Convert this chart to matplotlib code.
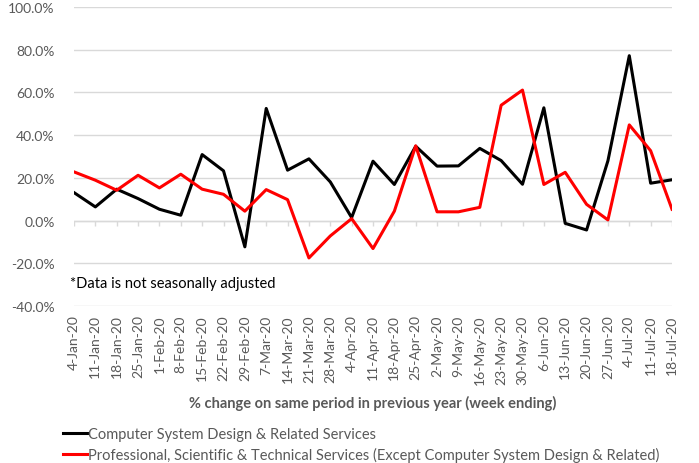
import matplotlib.pyplot as plt
import numpy as np

plt.rcParams['font.family'] = ['Lato', 'DejaVu Sans']

weeks = ['4-Jan-20', '11-Jan-20', '18-Jan-20', '25-Jan-20', '1-Feb-20', '8-Feb-20',
         '15-Feb-20', '22-Feb-20', '29-Feb-20', '7-Mar-20', '14-Mar-20', '21-Mar-20',
         '28-Mar-20', '4-Apr-20', '11-Apr-20', '18-Apr-20', '25-Apr-20', '2-May-20',
         '9-May-20', '16-May-20', '23-May-20', '30-May-20', '6-Jun-20', '13-Jun-20',
         '20-Jun-20', '27-Jun-20', '4-Jul-20', '11-Jul-20', '18-Jul-20']

computer_design = [13.1, 6.4, 14.7, 10.3, 5.3, 2.5, 30.9, 23.3, -12.3, 52.5,
                   23.6, 28.9, 18.1, 1.4, 27.8, 16.9, 34.8, 25.5, 25.6, 33.8,
                   28.1, 17.0, 52.8, -1.3, -4.4, 28.0, 77.2, 17.5, 19.1]

professional = [22.8, 18.9, 14.2, 21.2, 15.3, 21.7, 14.7, 12.3, 4.4, 14.5,
                9.8, -17.5, -7.2, 0.9, -13.1, 4.4, 35.0, 4.1, 4.1, 6.2,
                54.0, 61.1, 16.9, 22.6, 7.6, 0.3, 44.8, 32.7, 5.3]

label_black = 'Computer System Design & Related Services'
label_red = 'Professional, Scientific & Technical Services (Except Computer System Design & Related)'

grey_text = '#595959'
grid_col = '#d9d9d9'

fig = plt.figure(figsize=(6.99, 4.64), dpi=100)
ax = fig.add_axes([74 / 699, 1 - 307 / 464, 598 / 699, 299 / 464])

x = np.arange(len(weeks))
ax.plot(x, computer_design, color='black', lw=2.2, label=label_black)
ax.plot(x, professional, color='#ff0000', lw=2.2, label=label_red)

ax.set_xlim(0, len(weeks) - 1)
ax.set_ylim(-40, 100)
ax.set_yticks(np.arange(-40, 101, 20))
ax.set_yticklabels([f'{v:.1f}%' for v in np.arange(-40, 101, 20)])
ax.yaxis.grid(True, color=grid_col, lw=1)
ax.set_axisbelow(True)
for s in ax.spines.values():
    s.set_visible(False)

# zero line with small category tick marks
ax.axhline(0, color=grid_col, lw=1, zorder=0)
ax.vlines(x, -2.4, 0, color=grid_col, lw=1, zorder=0)

ax.set_xticks(x)
ax.set_xticklabels(weeks, rotation=90, va='top', ha='center')
ax.tick_params(axis='both', length=0, labelsize=10, labelcolor=grey_text)
ax.tick_params(axis='x', pad=6)
ax.tick_params(axis='y', pad=14)

ax.set_xlabel('% change on same period in previous year (week ending)',
              fontsize=10.5, fontweight='bold', color=grey_text, labelpad=8)

ax.text(-0.2, -29, '*Data is not seasonally adjusted', fontsize=10.5, color='black',
        va='center', ha='left')

fig.legend(loc='upper left', bbox_to_anchor=(56 / 699, 1 - 421 / 464), frameon=False,
           fontsize=10.5, handlelength=1.6, handletextpad=0.1, labelspacing=0.4,
           borderpad=0, labelcolor=grey_text)

fig.savefig('out.png', dpi=100)
